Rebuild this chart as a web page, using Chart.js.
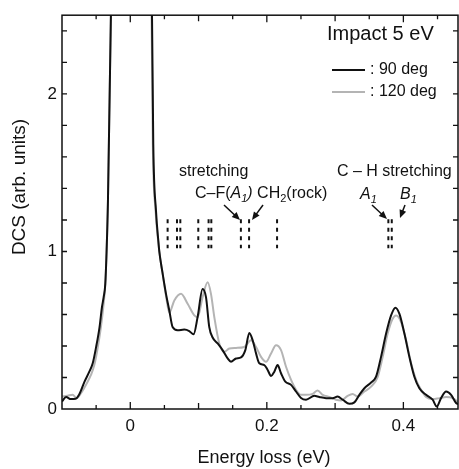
<!DOCTYPE html>
<html>
<head>
<meta charset="utf-8">
<script src="https://cdn.jsdelivr.net/npm/chart.js@4.4.0/dist/chart.umd.min.js"></script>
<style>
body{margin:0;background:#fff}
canvas{display:block}
</style>
</head>
<body>
<canvas id="myChart" width="459" height="469"></canvas>
<script>
// 90 deg curve, energy loss (eV) / DCS
let e90=[-0.100,-0.094,-0.087,-0.080,-0.075,-0.067,-0.060,-0.055,-0.050,-0.045,-0.0415,-0.039,-0.0366,-0.0347,-0.0327,-0.028,-0.015,0,0.015,
  0.0316,0.0337,0.0377,0.0415,0.0425,0.047,0.0523,0.0571,0.062,0.0693,0.0791,0.0864,0.0927,0.0986,0.1059,0.1109,0.1157,0.1206,0.128,
  0.1352,0.1426,0.1475,0.1549,0.1622,0.1685,0.1744,0.1792,0.1842,0.189,0.1963,0.2012,0.2062,0.211,0.2158,0.2208,0.2271,0.2355,0.2428,
  0.2501,0.2574,0.2696,0.2769,0.2867,0.2964,0.3037,0.3111,0.3209,0.3282,0.3355,0.3429,0.3527,0.36,0.3673,0.3747,0.382,0.3883,0.3941,
  0.4015,0.4088,0.4161,0.4234,0.4332,0.4429,0.4488,0.4552,0.4626,0.4699,0.4772,0.48]
let dcs90=[0.048,0.076,0.063,0.065,0.090,0.174,0.237,0.290,0.394,0.520,0.646,0.710,0.794,1.000,1.320,2.6,5.0,7.0,5.0,
  2.6,1.678,1.256,1.048,1.0,0.87,0.731,0.627,0.52,0.50,0.504,0.495,0.474,0.583,0.762,0.71,0.52,0.454,0.416,
  0.374,0.321,0.30,0.321,0.328,0.374,0.483,0.437,0.353,0.29,0.279,0.248,0.21,0.237,0.279,0.227,0.174,0.153,0.111,
  0.07,0.059,0.084,0.076,0.069,0.069,0.079,0.059,0.033,0.042,0.09,0.132,0.168,0.205,0.331,0.479,0.594,0.643,0.605,
  0.479,0.331,0.205,0.132,0.09,0.059,0.016,0.069,0.111,0.09,0.038,0.03]

// 120 deg curve
let e120=[-0.100,-0.092,-0.0845,-0.0787,-0.0722,-0.065,-0.0576,-0.0527,-0.0479,-0.043,-0.039,-0.0366,-0.0347,-0.0327,-0.028,-0.015,0,0.015,
  0.031,0.033,0.037,0.041,0.0425,0.047,0.0523,0.0571,0.0645,0.0743,0.084,0.0938,0.0986,0.1059,0.1133,0.1182,0.1231,0.1304,0.1377,
  0.1451,0.1549,0.167,0.1768,0.1842,0.1915,0.1988,0.2062,0.2135,0.2208,0.2281,0.2355,0.2428,0.2501,0.2574,0.2671,0.2744,0.2818,
  0.2916,0.3013,0.3086,0.3184,0.3257,0.333,0.3429,0.3527,0.3623,0.3697,0.377,0.3843,0.3893,0.3966,0.404,0.4113,0.4186,0.4259,
  0.4332,0.4429,0.4527,0.4626,0.4723,0.48]
let dcs120=[0.08,0.084,0.09,0.069,0.10,0.153,0.216,0.279,0.384,0.52,0.668,0.794,1.0,1.32,2.6,5.0,7.0,5.0,
  2.6,1.68,1.26,1.06,1.0,0.87,0.72,0.612,0.689,0.731,0.668,0.594,0.583,0.71,0.804,0.731,0.583,0.416,0.363,
  0.384,0.388,0.394,0.437,0.394,0.331,0.30,0.353,0.405,0.374,0.268,0.185,0.122,0.09,0.09,0.096,0.117,0.09,
  0.076,0.059,0.054,0.084,0.096,0.079,0.111,0.142,0.202,0.331,0.479,0.573,0.594,0.552,0.437,0.29,0.185,0.122,
  0.076,0.063,0.069,0.076,0.069,0.045]

// vibrational mode positions (eV) shown as short dashed bars
let modeE=[0.0547,0.0684,0.0733,0.0996,0.1147,0.1187,0.162,0.174,0.215,0.378,0.383]
let modeTop=1.205,modeBottom=1.02

let xLabels=[0,0.2,0.4]
let yLabels=[0,1,2]

const FONT='"Liberation Sans", Arial, Helvetica, sans-serif'

function pts(xs,ys){ return xs.map((x,i)=>({x:x,y:ys[i]})) }
function isAt(v,list){ return list.some(l=>Math.abs(v-l)<1e-6) }

let datasets=[
  {data:pts(e90,dcs90),borderColor:'#111',borderWidth:2,pointRadius:0,cubicInterpolationMode:'monotone'},
  {data:pts(e120,dcs120),borderColor:'#b4b4b4',borderWidth:2,pointRadius:0,cubicInterpolationMode:'monotone'}
]
modeE.forEach(e=>{
  datasets.push({data:[{x:e,y:modeTop},{x:e,y:modeBottom}],borderColor:'#111',borderWidth:2,
    borderDash:[4,4.5],pointRadius:0})
})

function rich(ctx,x,y,parts,size){
  parts.forEach(p=>{
    let s=p.sub?Math.round(size*0.7):size
    ctx.font=(p.it?'italic ':'')+s+'px '+FONT
    ctx.fillText(p.t,x,y+(p.sub?size*0.3:0))
    x+=ctx.measureText(p.t).width
  })
}

function arrow(ctx,x1,y1,x2,y2){
  let a=Math.atan2(y2-y1,x2-x1),L=8,W=3.5
  ctx.beginPath()
  ctx.moveTo(x1,y1)
  ctx.lineTo(x2-L*Math.cos(a)*0.6,y2-L*Math.sin(a)*0.6)
  ctx.stroke()
  ctx.beginPath()
  ctx.moveTo(x2,y2)
  ctx.lineTo(x2-L*Math.cos(a)+W*Math.sin(a),y2-L*Math.sin(a)-W*Math.cos(a))
  ctx.lineTo(x2-L*Math.cos(a)-W*Math.sin(a),y2-L*Math.sin(a)+W*Math.cos(a))
  ctx.closePath()
  ctx.fill()
}

const decor={
  id:'decor',
  afterDraw(chart){
    let ctx=chart.ctx,a=chart.chartArea,xs=chart.scales.x,ys=chart.scales.y
    ctx.save()
    ctx.strokeStyle='#111'
    ctx.fillStyle='#111'
    // frame
    ctx.lineWidth=1.5
    ctx.strokeRect(a.left,a.top,a.right-a.left,a.bottom-a.top)
    // inward ticks
    ctx.lineWidth=1.3
    ctx.beginPath()
    xs.ticks.forEach(t=>{
      let p=xs.getPixelForValue(t.value)
      if(p<=a.left+1||p>=a.right-1) return
      let r=Math.abs(t.value*10-Math.round(t.value*10))<1e-6
      let len=isAt(t.value,xLabels)?7:(r?6:4)
      ctx.moveTo(p,a.bottom);ctx.lineTo(p,a.bottom-len)
      ctx.moveTo(p,a.top);ctx.lineTo(p,a.top+len)
    })
    ys.ticks.forEach(t=>{
      let p=ys.getPixelForValue(t.value)
      if(p>=a.bottom-1||p<=a.top+1) return
      ctx.moveTo(a.left,p);ctx.lineTo(a.left+5,p)
      ctx.moveTo(a.right,p);ctx.lineTo(a.right-5,p)
    })
    ctx.stroke()

    // axis titles
    ctx.textBaseline='middle'
    ctx.textAlign='center'
    ctx.font='18px '+FONT
    ctx.fillText('Energy loss (eV)',264,458)
    ctx.save()
    ctx.translate(20,187)
    ctx.rotate(-Math.PI/2)
    ctx.font='19px '+FONT
    ctx.fillText('DCS (arb. units)',0,0)
    ctx.restore()

    // legend
    ctx.textAlign='left'
    ctx.font='20px '+FONT
    ctx.fillText('Impact 5 eV',327,34)
    ctx.lineWidth=2
    ctx.strokeStyle='#111'
    ctx.beginPath();ctx.moveTo(332,70);ctx.lineTo(365,70);ctx.stroke()
    ctx.strokeStyle='#b4b4b4'
    ctx.beginPath();ctx.moveTo(332,92);ctx.lineTo(365,92);ctx.stroke()
    ctx.font='16px '+FONT
    ctx.fillText(': 90 deg',370,70)
    ctx.fillText(': 120 deg',370,92)

    // mode labels
    ctx.font='16px '+FONT
    ctx.fillText('stretching',179,172)
    rich(ctx,195,194,[{t:'C\u2013F('},{t:'A',it:1},{t:'1',it:1,sub:1},{t:')',it:1},{t:' CH'},{t:'2',sub:1},{t:'(rock)'}],16)
    ctx.font='16px '+FONT
    ctx.fillText('C \u2013 H stretching',337,172)
    rich(ctx,360,195,[{t:'A',it:1},{t:'1',it:1,sub:1}],16)
    rich(ctx,400,195,[{t:'B',it:1},{t:'1',it:1,sub:1}],16)

    ctx.strokeStyle='#111'
    ctx.lineWidth=1.5
    arrow(ctx,224,205,240,220)
    arrow(ctx,263,205,252,220)
    arrow(ctx,372,205,387,219)
    arrow(ctx,405,205,400,218)
    ctx.restore()
  }
}

let myChart=new Chart(document.getElementById('myChart').getContext('2d'),{
  type:'line',
  data:{datasets:datasets},
  options:{
    responsive:false,
    animation:false,
    events:[],
    layout:{padding:{top:13,right:1,left:0,bottom:0}},
    plugins:{legend:{display:false},tooltip:{enabled:false}},
    scales:{
      x:{
        type:'linear',min:-0.1,max:0.48,
        grid:{display:false,drawTicks:false},
        border:{display:false},
        ticks:{stepSize:0.05,includeBounds:false,autoSkip:false,maxRotation:0,padding:7,color:'#111',
          font:{family:FONT,size:17},
          callback:v=>isAt(v,xLabels)?(v==0?'0':v.toFixed(1)):''},
        afterFit:s=>{s.height=60}
      },
      y:{
        min:0,max:2.5,
        grid:{display:false,drawTicks:false},
        border:{display:false},
        ticks:{stepSize:0.2,includeBounds:false,autoSkip:false,padding:5,color:'#111',
          font:{family:FONT,size:17},
          callback:v=>isAt(v,yLabels)?String(Math.round(v)):''},
        afterFit:s=>{s.width=62}
      }
    }
  },
  plugins:[decor]
})
</script>
</body>
</html>
